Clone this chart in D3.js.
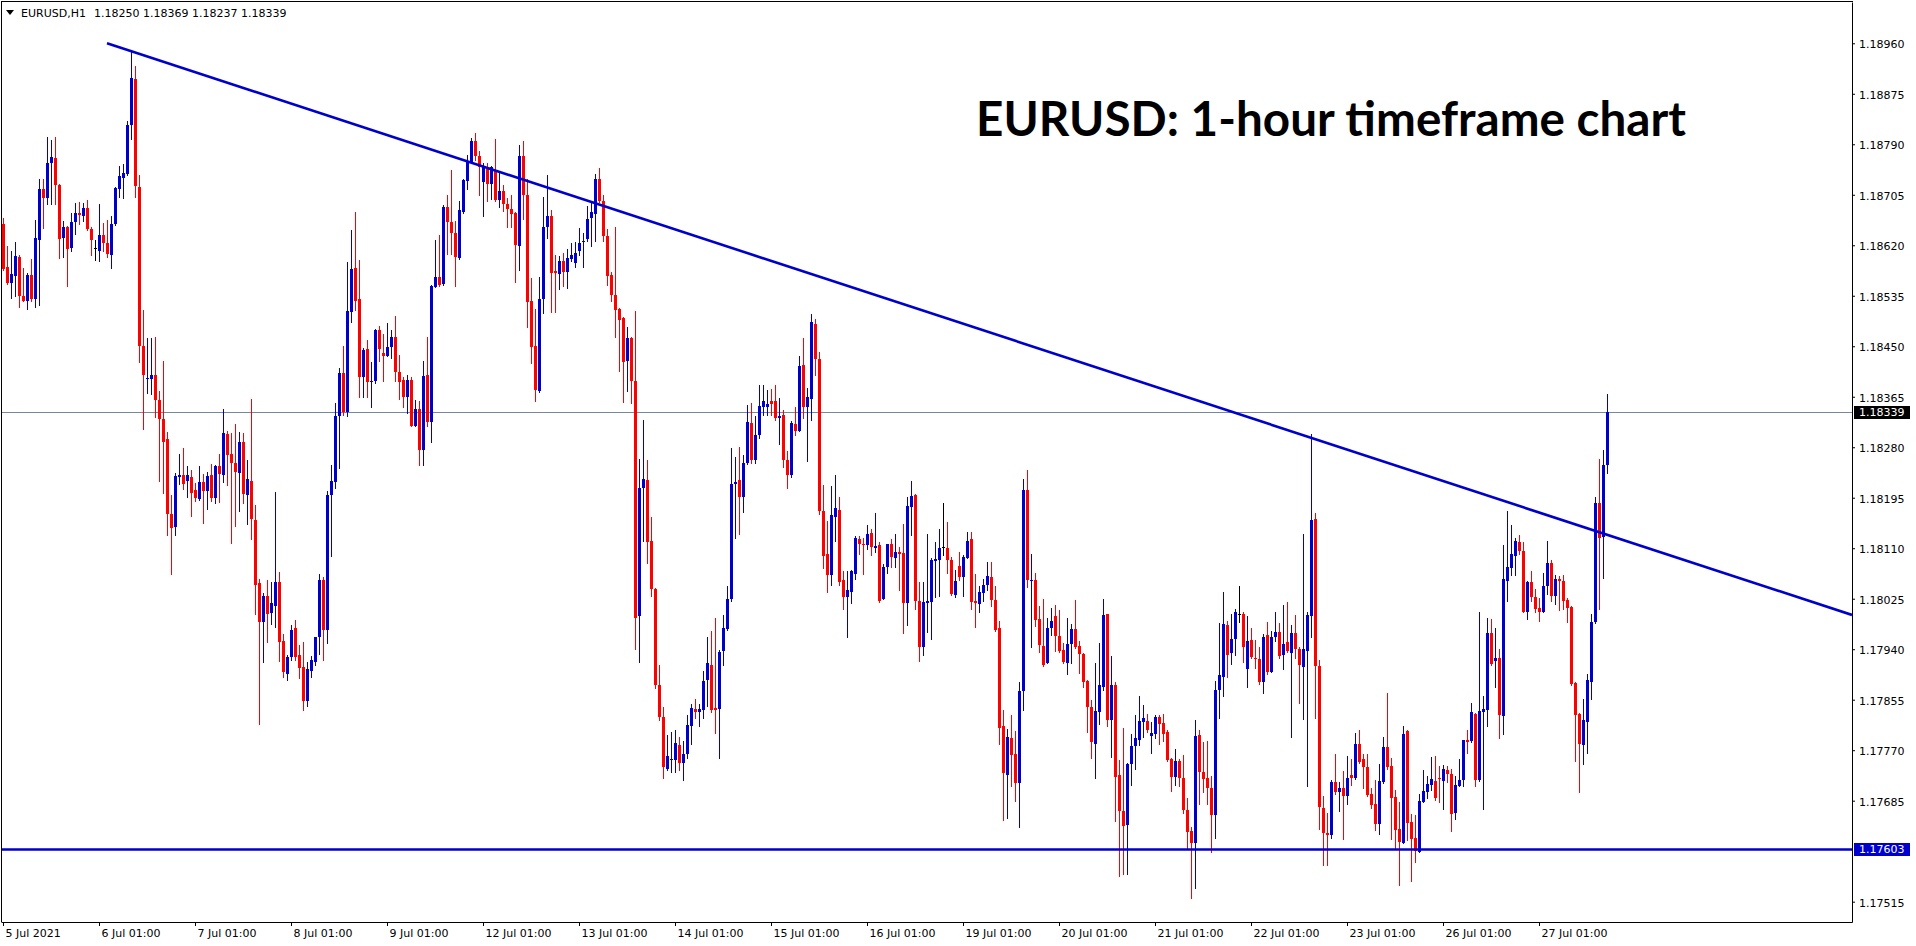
<!DOCTYPE html>
<html><head><meta charset="utf-8">
<script src="https://cdn.jsdelivr.net/npm/d3@7"></script>
<style>html,body{margin:0;padding:0;background:#fff;overflow:hidden}</style>
</head><body>
<svg id="chart" width="1916" height="946"></svg>
<script>
const symbol = "EURUSD,H1";
const headerValues = ["1.18250", "1.18369", "1.18237", "1.18339"];
const title = "EURUSD: 1-hour timeframe chart";
const dayLabels = ["5 Jul 2021","6 Jul 01:00","7 Jul 01:00","8 Jul 01:00","9 Jul 01:00","12 Jul 01:00","13 Jul 01:00","14 Jul 01:00","15 Jul 01:00","16 Jul 01:00","19 Jul 01:00","20 Jul 01:00","21 Jul 01:00","22 Jul 01:00","23 Jul 01:00","26 Jul 01:00","27 Jul 01:00"];
const barsPerDay = 24;
const yTickValues = [1.18960,1.18875,1.18790,1.18705,1.18620,1.18535,1.18450,1.18365,1.18280,1.18195,1.18110,1.18025,1.17940,1.17855,1.17770,1.17685,1.17515];
const bidPrice = 1.18339;
const supportPrice = 1.17603;
const trendAnchors = [{bar: 26, price: 1.18960}, {bar: 327, price: 1.18296}];

const opens = [
1.18656,1.18583,1.18557,1.18569,1.18600,1.18535,1.18527,1.18570,1.18530,1.18629,
1.18715,1.18699,1.18758,1.18767,1.18722,1.18633,1.18651,1.18616,1.18659,1.18674,
1.18670,1.18683,1.18648,1.18616,1.18611,1.18638,1.18624,1.18604,1.18655,1.18714,
1.18734,1.18740,1.18822,1.18900,1.18718,1.18451,1.18395,1.18395,1.18401,1.18359,
1.18327,1.18294,1.18168,1.18146,1.18230,1.18234,1.18223,1.18230,1.18208,1.18193,
1.18221,1.18207,1.18233,1.18195,1.18249,1.18233,1.18302,1.18268,1.18253,1.18237,
1.18289,1.18199,1.18224,1.18157,1.18051,1.17985,1.18029,1.18001,1.18013,1.18053,
1.17954,1.17899,1.17927,1.17975,1.17930,1.17910,1.17852,1.17904,1.17919,1.17960,
1.18057,1.17972,1.18200,1.18222,1.18332,1.18405,1.18340,1.18508,1.18581,1.18529,
1.18398,1.18446,1.18390,1.18391,1.18477,1.18438,1.18434,1.18449,1.18465,1.18406,
1.18393,1.18364,1.18393,1.18316,1.18344,1.18275,1.18402,1.18322,1.18549,1.18567,
1.18555,1.18684,1.18660,1.18640,1.18599,1.18676,1.18729,1.18760,1.18796,1.18771,
1.18726,1.18752,1.18723,1.18746,1.18696,1.18711,1.18690,1.18681,1.18674,1.18618,
1.18771,1.18704,1.18526,1.18450,1.18375,1.18529,1.18651,1.18670,1.18577,1.18572,
1.18593,1.18575,1.18597,1.18590,1.18610,1.18625,1.18630,1.18666,1.18673,1.18731,
1.18694,1.18635,1.18570,1.18536,1.18512,1.18497,1.18426,1.18464,1.18392,1.17996,
1.18211,1.18225,1.18122,1.18042,1.17879,1.17826,1.17738,1.17754,1.17754,1.17778,
1.17748,1.17764,1.17811,1.17839,1.17834,1.17838,1.17888,1.17914,1.17841,1.17839,
1.17937,1.17974,1.18024,1.18218,1.18225,1.18196,1.18254,1.18321,1.18258,1.18300,
1.18348,1.18347,1.18358,1.18358,1.18330,1.18334,1.18258,1.18233,1.18319,1.18308,
1.18418,1.18347,1.18361,1.18487,1.18429,1.18173,1.18101,1.18065,1.18162,1.18175,
1.18056,1.18028,1.18037,1.18067,1.18125,1.18117,1.18115,1.18135,1.18111,1.18115,
1.18025,1.18078,1.18117,1.18094,1.18103,1.18102,1.18017,1.18180,1.18200,1.18021,
1.17943,1.18017,1.18020,1.18088,1.18090,1.18112,1.18110,1.18090,1.18032,1.18080,
1.18062,1.18094,1.18125,1.18021,1.18016,1.18035,1.18048,1.18061,1.18023,1.17976,
1.17811,1.17729,1.17790,1.17763,1.17715,1.17869,1.18208,1.18055,1.18056,1.17991,
1.17946,1.17917,1.17976,1.17996,1.17962,1.17938,1.17917,1.17949,1.17974,1.17946,
1.17932,1.17886,1.17843,1.17781,1.17835,1.17877,1.17999,1.17820,1.17879,1.17728,
1.17668,1.17644,1.17747,1.17777,1.17788,1.17818,1.17819,1.17794,1.17797,1.17826,
1.17815,1.17801,1.17756,1.17725,1.17751,1.17724,1.17670,1.17634,1.17614,1.17795,
1.17734,1.17723,1.17707,1.17661,1.17871,1.17894,1.17981,1.17933,1.17957,1.18000,
1.17999,1.17906,1.17955,1.17926,1.17923,1.17884,1.17964,1.17902,1.17960,1.17969,
1.17930,1.17952,1.17933,1.17967,1.17941,1.17910,1.17937,1.17996,1.18159,1.17912,
1.17672,1.17630,1.17627,1.17716,1.17700,1.17706,1.17693,1.17728,1.17724,1.17780,
1.17755,1.17741,1.17696,1.17679,1.17646,1.17717,1.17776,1.17744,1.17692,1.17637,
1.17614,1.17803,1.17649,1.17622,1.17599,1.17683,1.17700,1.17711,1.17718,1.17723,
1.17718,1.17737,1.17730,1.17665,1.17710,1.17720,1.17787,1.17786,1.17831,1.17720,
1.17835,1.17838,1.17968,1.17921,1.17926,1.17828,1.18054,1.18077,1.18097,1.18121,
1.18106,1.18002,1.18053,1.18028,1.18010,1.18002,1.18047,1.18085,1.18030,1.18059,
1.18054,1.18023,1.18011,1.17883,1.17831,1.17778,1.17818,1.17885,1.17985,1.18186,
1.18129,1.18250];

const highs = [
1.18666,1.18619,1.18611,1.18626,1.18603,1.18582,1.18574,1.18597,1.18662,1.18731,
1.18732,1.18802,1.18797,1.18802,1.18723,1.18661,1.18653,1.18674,1.18691,1.18693,
1.18691,1.18696,1.18651,1.18629,1.18690,1.18657,1.18662,1.18669,1.18718,1.18754,
1.18757,1.18830,1.18948,1.18921,1.18738,1.18511,1.18464,1.18464,1.18465,1.18375,
1.18426,1.18306,1.18199,1.18237,1.18269,1.18279,1.18249,1.18242,1.18220,1.18249,
1.18235,1.18239,1.18252,1.18250,1.18269,1.18344,1.18308,1.18304,1.18319,1.18305,
1.18304,1.18258,1.18361,1.18182,1.18058,1.18035,1.18056,1.18053,1.18205,1.18070,
1.17965,1.17931,1.17981,1.17989,1.17947,1.17952,1.17918,1.17929,1.17961,1.18067,
1.18061,1.18207,1.18250,1.18355,1.18413,1.18451,1.18591,1.18646,1.18676,1.18595,
1.18447,1.18461,1.18424,1.18479,1.18484,1.18471,1.18489,1.18478,1.18501,1.18435,
1.18398,1.18401,1.18398,1.18360,1.18357,1.18426,1.18466,1.18553,1.18629,1.18638,
1.18688,1.18704,1.18746,1.18661,1.18694,1.18731,1.18772,1.18801,1.18809,1.18778,
1.18758,1.18758,1.18754,1.18799,1.18741,1.18721,1.18699,1.18704,1.18676,1.18789,
1.18796,1.18731,1.18565,1.18513,1.18566,1.18701,1.18739,1.18679,1.18603,1.18602,
1.18607,1.18614,1.18623,1.18626,1.18649,1.18640,1.18686,1.18693,1.18740,1.18750,
1.18704,1.18647,1.18575,1.18651,1.18515,1.18499,1.18483,1.18466,1.18509,1.18261,
1.18326,1.18258,1.18162,1.18043,1.17914,1.17842,1.17796,1.17800,1.17804,1.17792,
1.17785,1.17829,1.17847,1.17856,1.17848,1.17904,1.17961,1.17970,1.17993,1.17939,
1.17997,1.18046,1.18279,1.18263,1.18281,1.18267,1.18351,1.18355,1.18333,1.18385,
1.18385,1.18376,1.18378,1.18385,1.18363,1.18342,1.18274,1.18324,1.18348,1.18433,
1.18464,1.18380,1.18504,1.18496,1.18441,1.18217,1.18156,1.18214,1.18233,1.18197,
1.18072,1.18072,1.18074,1.18130,1.18130,1.18128,1.18149,1.18143,1.18169,1.18121,
1.18083,1.18117,1.18125,1.18134,1.18112,1.18151,1.18196,1.18223,1.18202,1.18053,
1.18053,1.18134,1.18094,1.18121,1.18143,1.18186,1.18154,1.18095,1.18073,1.18103,
1.18099,1.18137,1.18137,1.18066,1.18046,1.18058,1.18086,1.18086,1.18047,1.17987,
1.17837,1.17806,1.17829,1.17803,1.17885,1.18227,1.18241,1.18101,1.18069,1.18012,
1.18025,1.17993,1.18009,1.18014,1.18006,1.17951,1.17993,1.17982,1.18023,1.17954,
1.17934,1.17888,1.17854,1.17917,1.17951,1.18024,1.18000,1.17929,1.17885,1.17753,
1.17807,1.17748,1.17798,1.17829,1.17861,1.17846,1.17831,1.17818,1.17830,1.17829,
1.17831,1.17804,1.17757,1.17772,1.17755,1.17762,1.17690,1.17641,1.17821,1.17804,
1.17783,1.17786,1.17726,1.17886,1.17984,1.18037,1.17987,1.17999,1.18007,1.18047,
1.18003,1.17996,1.17975,1.17955,1.17943,1.17966,1.17986,1.17971,1.18003,1.17984,
1.18014,1.18019,1.17981,1.17998,1.17944,1.18134,1.18003,1.18302,1.18170,1.17922,
1.17693,1.17664,1.17720,1.17764,1.17717,1.17735,1.17760,1.17756,1.17799,1.17804,
1.17764,1.17764,1.17707,1.17720,1.17747,1.17792,1.17867,1.17757,1.17703,1.17682,
1.17811,1.17804,1.17662,1.17661,1.17696,1.17737,1.17727,1.17758,1.17760,1.17743,
1.17745,1.17744,1.17738,1.17727,1.17756,1.17788,1.17804,1.17850,1.17832,1.18003,
1.17861,1.17992,1.17991,1.17975,1.17941,1.18115,1.18172,1.18149,1.18127,1.18133,
1.18120,1.18054,1.18072,1.18042,1.18026,1.18069,1.18122,1.18090,1.18065,1.18063,
1.18065,1.18026,1.18012,1.17884,1.17833,1.17856,1.17899,1.17999,1.18196,1.18261,
1.18275,1.18369];

const lows = [
1.18578,1.18555,1.18532,1.18535,1.18516,1.18526,1.18512,1.18527,1.18516,1.18520,
1.18649,1.18690,1.18689,1.18689,1.18599,1.18601,1.18552,1.18611,1.18639,1.18656,
1.18661,1.18646,1.18603,1.18595,1.18593,1.18610,1.18600,1.18581,1.18654,1.18702,
1.18699,1.18738,1.18799,1.18702,1.18424,1.18311,1.18372,1.18369,1.18331,1.18224,
1.18203,1.18132,1.18067,1.18132,1.18218,1.18209,1.18197,1.18165,1.18189,1.18192,
1.18153,1.18176,1.18189,1.18186,1.18187,1.18221,1.18216,1.18119,1.18147,1.18173,
1.18186,1.18150,1.18126,1.17999,1.17814,1.17919,1.17952,1.17982,1.17977,1.17921,
1.17894,1.17889,1.17922,1.17922,1.17892,1.17837,1.17844,1.17894,1.17914,1.17932,
1.17922,1.17951,1.18097,1.18212,1.18245,1.18335,1.18332,1.18491,1.18511,1.18365,
1.18365,1.18364,1.18348,1.18388,1.18426,1.18391,1.18433,1.18431,1.18391,1.18362,
1.18348,1.18338,1.18315,1.18315,1.18250,1.18250,1.18316,1.18288,1.18549,1.18551,
1.18553,1.18605,1.18605,1.18551,1.18597,1.18674,1.18714,1.18758,1.18764,1.18704,
1.18669,1.18694,1.18698,1.18694,1.18684,1.18677,1.18651,1.18650,1.18558,1.18579,
1.18664,1.18483,1.18421,1.18358,1.18373,1.18506,1.18633,1.18508,1.18508,1.18547,
1.18552,1.18548,1.18593,1.18584,1.18603,1.18584,1.18628,1.18618,1.18628,1.18693,
1.18628,1.18553,1.18526,1.18466,1.18408,1.18356,1.18375,1.18355,1.17940,1.17919,
1.18122,1.18085,1.18029,1.17874,1.17820,1.17724,1.17736,1.17734,1.17733,1.17736,
1.17719,1.17757,1.17780,1.17825,1.17811,1.17824,1.17844,1.17835,1.17799,1.17757,
1.17914,1.17972,1.18022,1.18127,1.18134,1.18171,1.18251,1.18254,1.18254,1.18295,
1.18334,1.18334,1.18334,1.18326,1.18286,1.18246,1.18212,1.18230,1.18300,1.18307,
1.18330,1.18256,1.18326,1.18402,1.18168,1.18077,1.18037,1.18048,1.18122,1.18048,
1.18007,1.17961,1.18017,1.18059,1.18101,1.18067,1.18108,1.18099,1.18103,1.18019,
1.18024,1.18069,1.18078,1.18078,1.18040,1.17967,1.17981,1.18132,1.18007,1.17921,
1.17930,1.17969,1.17958,1.18028,1.18030,1.18099,1.18069,1.18032,1.18028,1.18056,
1.18030,1.18093,1.18007,1.17977,1.18003,1.18021,1.18039,1.18012,1.17971,1.17780,
1.17653,1.17656,1.17710,1.17685,1.17640,1.17838,1.18045,1.17943,1.17979,1.17935,
1.17911,1.17917,1.17964,1.17937,1.17936,1.17916,1.17898,1.17917,1.17942,1.17900,
1.17877,1.17801,1.17757,1.17723,1.17814,1.17872,1.17811,1.17759,1.17651,1.17559,
1.17561,1.17561,1.17712,1.17738,1.17779,1.17793,1.17800,1.17766,1.17790,1.17781,
1.17786,1.17752,1.17702,1.17711,1.17710,1.17664,1.17605,1.17521,1.17538,1.17680,
1.17700,1.17679,1.17599,1.17623,1.17824,1.17861,1.17894,1.17915,1.17931,1.17986,
1.17919,1.17877,1.17926,1.17908,1.17881,1.17867,1.17899,1.17901,1.17953,1.17926,
1.17906,1.17936,1.17792,1.17925,1.17850,1.17823,1.17709,1.17961,1.17825,1.17638,
1.17576,1.17576,1.17623,1.17697,1.17668,1.17620,1.17679,1.17712,1.17722,1.17748,
1.17707,1.17693,1.17673,1.17636,1.17629,1.17715,1.17739,1.17620,1.17605,1.17543,
1.17613,1.17619,1.17549,1.17581,1.17599,1.17682,1.17690,1.17703,1.17686,1.17683,
1.17671,1.17717,1.17634,1.17655,1.17710,1.17709,1.17765,1.17784,1.17709,1.17718,
1.17671,1.17811,1.17913,1.17877,1.17791,1.17797,1.18021,1.18065,1.18065,1.18100,
1.18002,1.17991,1.18022,1.18002,1.17988,1.18002,1.18033,1.18022,1.18016,1.18006,
1.18007,1.17986,1.17880,1.17751,1.17700,1.17746,1.17765,1.17856,1.17984,1.18007,
1.18060,1.18237];

const closes = [
1.18580,1.18557,1.18571,1.18602,1.18535,1.18527,1.18570,1.18529,1.18632,1.18715,
1.18700,1.18758,1.18769,1.18722,1.18631,1.18651,1.18614,1.18659,1.18674,1.18671,
1.18683,1.18647,1.18629,1.18616,1.18638,1.18623,1.18606,1.18656,1.18716,1.18737,
1.18741,1.18822,1.18902,1.18719,1.18451,1.18401,1.18397,1.18401,1.18359,1.18327,
1.18289,1.18168,1.18144,1.18231,1.18234,1.18218,1.18234,1.18203,1.18195,1.18221,
1.18207,1.18231,1.18195,1.18249,1.18235,1.18304,1.18267,1.18253,1.18239,1.18289,
1.18201,1.18226,1.18159,1.18048,1.17986,1.18029,1.18000,1.18017,1.18053,1.17952,
1.17902,1.17927,1.17972,1.17927,1.17909,1.17852,1.17907,1.17922,1.17960,1.18057,
1.17972,1.18200,1.18223,1.18332,1.18405,1.18340,1.18510,1.18580,1.18527,1.18398,
1.18443,1.18390,1.18391,1.18478,1.18446,1.18433,1.18449,1.18465,1.18406,1.18390,
1.18364,1.18393,1.18316,1.18344,1.18275,1.18400,1.18323,1.18551,1.18567,1.18553,
1.18684,1.18660,1.18640,1.18601,1.18679,1.18730,1.18761,1.18796,1.18771,1.18751,
1.18752,1.18723,1.18751,1.18696,1.18711,1.18689,1.18681,1.18672,1.18620,1.18771,
1.18704,1.18525,1.18448,1.18376,1.18529,1.18650,1.18670,1.18574,1.18574,1.18593,
1.18575,1.18598,1.18604,1.18607,1.18624,1.18627,1.18665,1.18676,1.18731,1.18694,
1.18635,1.18569,1.18537,1.18511,1.18495,1.18424,1.18464,1.18392,1.17993,1.18211,
1.18226,1.18120,1.18042,1.17879,1.17826,1.17742,1.17761,1.17756,1.17782,1.17748,
1.17764,1.17813,1.17841,1.17834,1.17839,1.17886,1.17916,1.17837,1.17837,1.17935,
1.17976,1.18025,1.18218,1.18221,1.18197,1.18253,1.18323,1.18258,1.18300,1.18349,
1.18358,1.18353,1.18353,1.18330,1.18332,1.18258,1.18234,1.18321,1.18307,1.18417,
1.18347,1.18364,1.18490,1.18429,1.18173,1.18097,1.18065,1.18166,1.18177,1.18053,
1.18028,1.18039,1.18072,1.18127,1.18117,1.18116,1.18134,1.18112,1.18114,1.18021,
1.18078,1.18117,1.18095,1.18103,1.18100,1.18017,1.18181,1.18198,1.18021,1.17944,
1.18020,1.18021,1.18091,1.18092,1.18110,1.18112,1.18091,1.18033,1.18055,1.18061,
1.18096,1.18122,1.18019,1.18017,1.18036,1.18048,1.18064,1.18023,1.17972,1.17808,
1.17732,1.17792,1.17762,1.17715,1.17869,1.18208,1.18056,1.18056,1.17990,1.17947,
1.17913,1.17976,1.17987,1.17962,1.17937,1.17918,1.17949,1.17974,1.17943,1.17932,
1.17885,1.17843,1.17783,1.17836,1.17879,1.17998,1.17821,1.17879,1.17725,1.17668,
1.17643,1.17747,1.17777,1.17790,1.17819,1.17824,1.17804,1.17799,1.17826,1.17814,
1.17798,1.17753,1.17725,1.17751,1.17724,1.17670,1.17633,1.17613,1.17794,1.17733,
1.17721,1.17706,1.17661,1.17871,1.17897,1.17982,1.17930,1.17957,1.18002,1.18000,
1.17944,1.17954,1.17927,1.17923,1.17884,1.17960,1.17901,1.17960,1.17969,1.17929,
1.17948,1.17937,1.17967,1.17941,1.17914,1.17940,1.17997,1.18157,1.17912,1.17674,
1.17630,1.17628,1.17716,1.17700,1.17707,1.17693,1.17723,1.17724,1.17780,1.17750,
1.17741,1.17695,1.17678,1.17646,1.17718,1.17776,1.17742,1.17690,1.17636,1.17615,
1.17797,1.17648,1.17620,1.17600,1.17684,1.17701,1.17713,1.17721,1.17690,1.17721,
1.17739,1.17730,1.17663,1.17711,1.17720,1.17787,1.17784,1.17834,1.17720,1.17836,
1.17840,1.17968,1.17915,1.17926,1.17829,1.18059,1.18078,1.18100,1.18123,1.18106,
1.18002,1.18053,1.18028,1.18008,1.18002,1.18047,1.18085,1.18030,1.18058,1.18054,
1.18022,1.18009,1.17881,1.17829,1.17780,1.17821,1.17888,1.17985,1.18186,1.18128,
1.18250,1.18339];

// ---------- drawing ----------
const W = 1916, H = 946;
const plot = {left: 1, top: 2, right: 1852, bottom: 922};
const BULL = "#0000CD", BEAR = "#FF0000", DOJI = "#000000", LINE = "#0000CD";
const FONT = "'DejaVu Sans', Verdana, sans-serif";
const fmt = d3.format(".5f");
const N = Math.min(opens.length, highs.length, lows.length, closes.length);

const svg = d3.select("#chart");
svg.append("rect").attr("width", W).attr("height", H).attr("fill", "#fff");

const x = d3.scaleLinear().domain([-0.5, 462.25]).range([plot.left, plot.right]);
const y = d3.scaleLinear().domain([1.174808, 1.190295]).range([plot.bottom, plot.top]);

svg.append("defs").append("clipPath").attr("id", "plotClip")
  .append("rect").attr("x", plot.left + 1).attr("y", plot.top)
  .attr("width", plot.right - plot.left - 1).attr("height", plot.bottom - plot.top);

// frame
svg.append("path")
  .attr("d", `M${plot.left + 0.5},${plot.bottom} V${plot.top - 0.5} H${plot.right + 0.5}`)
  .attr("fill", "none").attr("stroke", "#000").attr("shape-rendering", "crispEdges");

const plotG = svg.append("g").attr("clip-path", "url(#plotClip)");

// bid line
plotG.append("line")
  .attr("x1", plot.left).attr("x2", plot.right)
  .attr("y1", Math.round(y(bidPrice)) + 0.5).attr("y2", Math.round(y(bidPrice)) + 0.5)
  .attr("stroke", "#778899").attr("stroke-width", 1).attr("shape-rendering", "crispEdges");

// candles
const candles = d3.range(N).map(i => ({i, o: opens[i], h: highs[i], l: lows[i], c: closes[i]}));
const colorOf = d => d.c > d.o ? BULL : (d.c < d.o ? BEAR : DOJI);
const cg = plotG.append("g").attr("shape-rendering", "crispEdges");
cg.selectAll("rect.wick").data(candles).join("rect").attr("class", "wick")
  .attr("x", d => Math.round(x(d.i)))
  .attr("y", d => Math.round(y(d.h)))
  .attr("width", 1)
  .attr("height", d => Math.max(1, Math.round(y(d.l)) - Math.round(y(d.h)) + 1))
  .attr("fill", colorOf);
cg.selectAll("rect.body").data(candles).join("rect").attr("class", "body")
  .attr("x", d => Math.round(x(d.i)) - 1)
  .attr("y", d => Math.round(y(Math.max(d.o, d.c))))
  .attr("width", 3)
  .attr("height", d => Math.max(1, Math.round(y(Math.min(d.o, d.c))) - Math.round(y(Math.max(d.o, d.c)))))
  .attr("fill", colorOf);

// support line
plotG.append("line")
  .attr("x1", plot.left).attr("x2", plot.right)
  .attr("y1", y(supportPrice)).attr("y2", y(supportPrice))
  .attr("stroke", LINE).attr("stroke-width", 2.5);

// descending trendline (ray to the right edge)
const [A, B] = trendAnchors;
const slope = (B.price - A.price) / (B.bar - A.bar);
const endBar = x.domain()[1];
const endPrice = A.price + slope * (endBar - A.bar);
plotG.append("line")
  .attr("x1", x(A.bar)).attr("y1", y(A.price))
  .attr("x2", x(endBar)).attr("y2", y(endPrice))
  .attr("stroke", LINE).attr("stroke-width", 2.6);

// right price axis
const yAxis = d3.axisRight(y).tickValues(yTickValues).tickFormat(fmt)
  .tickSize(3).tickPadding(4).tickSizeOuter(0);
const yg = svg.append("g").attr("transform", `translate(${plot.right},0)`).call(yAxis);
yg.selectAll("path,line").attr("stroke", "#000");
yg.selectAll("text").attr("font-family", FONT).attr("font-size", 11).attr("fill", "#000").attr("dy", "0.42em");

// bottom time axis
const xAxis = d3.axisBottom(x).tickValues(dayLabels.map((d, i) => i * barsPerDay))
  .tickFormat((d, i) => dayLabels[i]).tickSize(4).tickPadding(3).tickSizeOuter(0);
const xg = svg.append("g").attr("transform", `translate(0,${plot.bottom})`).call(xAxis);
xg.selectAll("path,line").attr("stroke", "#000");
xg.selectAll("text").attr("font-family", FONT).attr("font-size", 11).attr("fill", "#000")
  .attr("text-anchor", "start").attr("x", 2);

// price tags on the axis
function priceTag(price, fill) {
  const yy = Math.round(y(price));
  svg.append("rect").attr("x", plot.right + 2).attr("y", yy - 6).attr("width", 56).attr("height", 13)
    .attr("fill", fill).attr("shape-rendering", "crispEdges");
  svg.append("text").attr("x", plot.right + 7).attr("y", yy).attr("dy", "0.4em")
    .attr("font-family", FONT).attr("font-size", 11).attr("fill", "#fff").text(fmt(price));
}
priceTag(bidPrice, "#000");
priceTag(supportPrice, LINE);

// header
svg.append("path").attr("d", "M6,10 L14,10 L10,15 Z").attr("fill", "#000");
svg.append("text").attr("x", 21).attr("y", 17).attr("font-family", FONT).attr("font-size", 11)
  .attr("fill", "#000").text(symbol);
svg.append("text").attr("x", 94).attr("y", 17).attr("font-family", FONT).attr("font-size", 11)
  .attr("fill", "#000").attr("xml:space", "preserve").text(headerValues.join(" "));

// title
svg.append("text").attr("x", 976).attr("y", 136)
  .attr("font-family", "Lato, 'Open Sans', sans-serif").attr("font-weight", 700).attr("font-size", 47)
  .attr("textLength", 710).attr("lengthAdjust", "spacingAndGlyphs")
  .attr("fill", "#000").text(title);
</script>
</body></html>
